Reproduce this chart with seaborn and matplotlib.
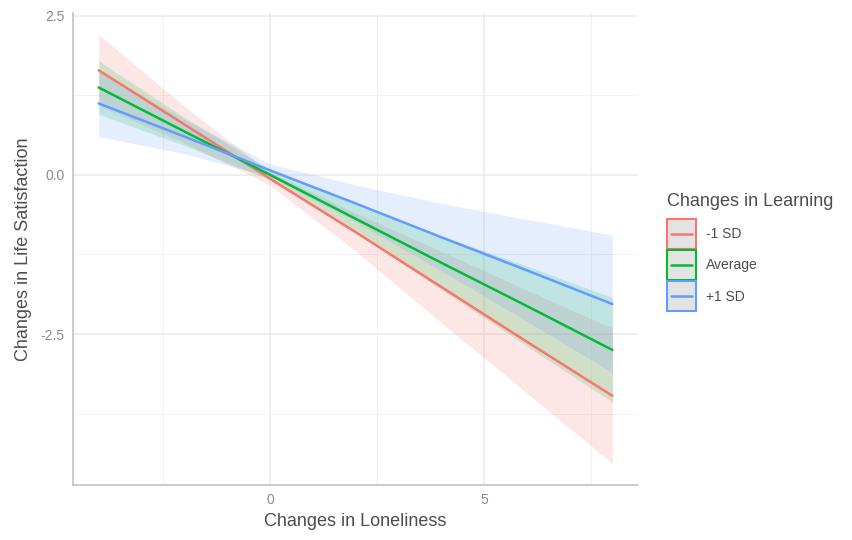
import pandas as pd
import seaborn as sns
import matplotlib.pyplot as plt
from matplotlib.patches import Patch, Rectangle
from matplotlib.lines import Line2D
from matplotlib.legend_handler import HandlerBase
from matplotlib.ticker import FixedLocator

# values
x_vals = [-4, -2, 0, 2, 4, 6, 8]
groups = ['-1 SD', 'Average', '+1 SD']
fit = {
    '-1 SD':   [1.64, 0.79, -0.06, -0.90, -1.76, -2.62, -3.47],
    'Average': [1.37, 0.68, 0.00, -0.69, -1.38, -2.06, -2.75],
    '+1 SD':   [1.12, 0.60, 0.07, -0.45, -0.98, -1.50, -2.03],
}
half_width = {
    '-1 SD':   [0.56, 0.29, 0.10, 0.30, 0.56, 0.81, 1.06],
    'Average': [0.42, 0.22, 0.08, 0.22, 0.42, 0.63, 0.82],
    '+1 SD':   [0.52, 0.27, 0.10, 0.29, 0.53, 0.80, 1.08],
}
colors = ['#F8766D', '#00BA38', '#619CFF']


class KeyHandler(HandlerBase):
    # grey square with coloured border and a line through the middle, like ggplot keys
    def create_artists(self, legend, orig_handle, xdescent, ydescent, width, height, fontsize, trans):
        c = orig_handle.get_edgecolor()
        rect = Rectangle((-xdescent, -ydescent), width, height, facecolor='#E3E3E3',
                         edgecolor=c, linewidth=1.5, transform=trans)
        y = -ydescent + height / 2
        line = Line2D([-xdescent + 3, -xdescent + width - 3], [y, y], color=c,
                      linewidth=1.8, transform=trans)
        return [rect, line]


def main():
    rows = []
    for g in groups:
        for x, f, h in zip(x_vals, fit[g], half_width[g]):
            rows.append({'x': x, 'fit': f, 'lower': f - h, 'upper': f + h, 'group': g})
    df = pd.DataFrame(rows)

    sns.set_style('white')
    plt.rcParams['font.family'] = ['Liberation Sans', 'DejaVu Sans']

    fig = plt.figure(figsize=(8.52, 5.4), dpi=100)
    ax = fig.add_axes([0.0857, 0.1019, 0.6632, 0.8741])

    for g, c in zip(groups, colors):
        d = df[df['group'] == g]
        ax.fill_between(d['x'], d['lower'], d['upper'], color=c, alpha=0.17, linewidth=0, zorder=2)

    sns.lineplot(data=df, x='x', y='fit', hue='group', palette=colors, hue_order=groups,
                 linewidth=1.8, errorbar=None, legend=False, ax=ax, zorder=3)

    ax.set_xlim(-4.6, 8.6)
    ax.set_ylim(-4.87, 2.54)
    ax.set_xticks([0, 5])
    ax.set_xticklabels(['0', '5'])
    ax.set_yticks([2.5, 0.0, -2.5])
    ax.set_yticklabels(['2.5', '0.0', '-2.5'])
    ax.xaxis.set_minor_locator(FixedLocator([-2.5, 2.5, 7.5]))
    ax.yaxis.set_minor_locator(FixedLocator([1.25, -1.25, -3.75]))
    ax.grid(which='major', color='#EBEBEB', linewidth=1.1, zorder=0)
    ax.grid(which='minor', color='#F2F2F2', linewidth=0.8, zorder=0)
    ax.set_axisbelow(True)
    ax.tick_params(which='both', length=0, labelsize=10, labelcolor='#8A8A8A', pad=6)

    for s in ['top', 'right']:
        ax.spines[s].set_visible(False)
    for s in ['left', 'bottom']:
        ax.spines[s].set_color('#BDBDBD')
        ax.spines[s].set_linewidth(1.1)

    ax.set_xlabel('Changes in Loneliness', fontsize=13, color='#4D4D4D', labelpad=4)
    ax.set_ylabel('Changes in Life Satisfaction', fontsize=13, color='#4D4D4D', labelpad=6)

    handles = [Patch(edgecolor=c) for c in colors]
    leg = fig.legend(handles, groups, title='Changes in Learning', loc='upper left',
                     bbox_to_anchor=(0.7825, 0.642), frameon=False, fontsize=10,
                     title_fontsize=13, handlelength=2.1, handleheight=2.94,
                     handletextpad=0.75, labelspacing=0.08, borderpad=0, borderaxespad=0,
                     handler_map={Patch: KeyHandler()})
    leg._legend_box.align = 'left'
    leg._legend_box.sep = 6.5  # more room under the title
    leg.get_title().set_color('#4D4D4D')
    for t in leg.get_texts():
        t.set_color('#4D4D4D')

    fig.savefig('out.png', dpi=100)


if __name__ == '__main__':
    main()
